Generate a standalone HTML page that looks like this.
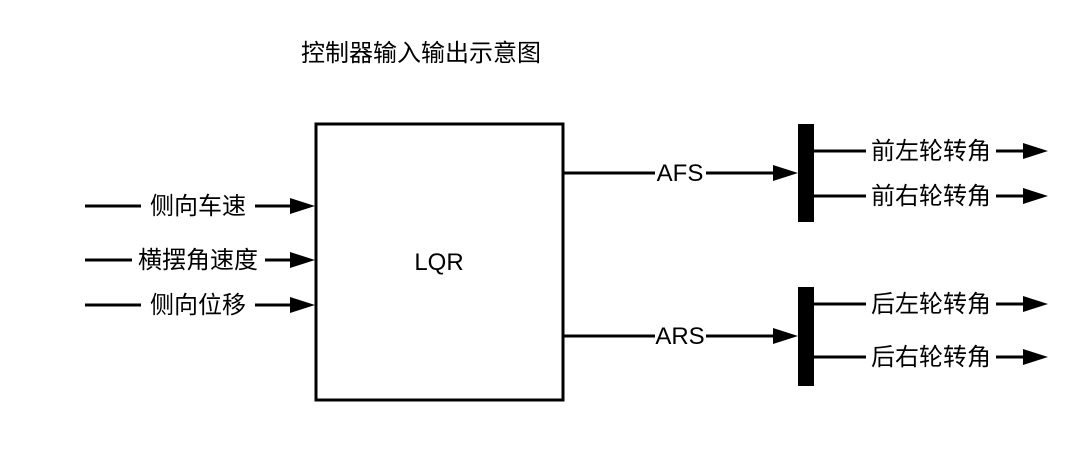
<!DOCTYPE html>
<html><head><meta charset="utf-8"><style>
html,body{margin:0;padding:0;background:#fff;}
svg{display:block;}
text{font-family:"Liberation Sans","Noto Sans CJK SC",sans-serif;font-size:24px;fill:#000;}
</style></head><body>
<svg width="1091" height="463" viewBox="0 0 1091 463">
<defs><marker id="a" markerWidth="10" markerHeight="10" refX="0" refY="0" viewBox="0 -5 10 10" orient="auto" markerUnits="userSpaceOnUse"></marker></defs>
<text x="421" y="61" text-anchor="middle">控制器输入输出示意图</text>
<rect x="316" y="124" width="247" height="276" fill="none" stroke="#000" stroke-width="3"/>
<text x="439" y="270" text-anchor="middle">LQR</text>
<g stroke="#000" stroke-width="3" fill="none">
<line x1="85" y1="206" x2="141" y2="206"/><line x1="255" y1="206" x2="292" y2="206"/>
<line x1="85" y1="260" x2="132" y2="260"/><line x1="265" y1="260" x2="292" y2="260"/>
<line x1="85" y1="305" x2="141" y2="305"/><line x1="255" y1="305" x2="292" y2="305"/>
<line x1="563" y1="173" x2="655" y2="173"/><line x1="706" y1="173" x2="775" y2="173"/>
<line x1="563" y1="336" x2="655" y2="336"/><line x1="706" y1="336" x2="775" y2="336"/>
<line x1="814" y1="151" x2="866" y2="151"/><line x1="996" y1="151" x2="1025" y2="151"/>
<line x1="814" y1="196" x2="866" y2="196"/><line x1="996" y1="196" x2="1025" y2="196"/>
<line x1="814" y1="304" x2="866" y2="304"/><line x1="996" y1="304" x2="1025" y2="304"/>
<line x1="814" y1="357" x2="866" y2="357"/><line x1="996" y1="357" x2="1025" y2="357"/>
</g>
<g fill="#000">
<polygon points="290,198 315,206 290,214"/>
<polygon points="290,252 315,260 290,268"/>
<polygon points="290,297 315,305 290,313"/>
<polygon points="773,165 798,173 773,181"/>
<polygon points="773,328 798,336 773,344"/>
<polygon points="1023,143 1048,151 1023,159"/>
<polygon points="1023,188 1048,196 1023,204"/>
<polygon points="1023,296 1048,304 1023,312"/>
<polygon points="1023,349 1048,357 1023,365"/>
<rect x="798" y="124" width="16" height="98"/>
<rect x="798" y="287" width="16" height="99"/>
</g>
<text x="198" y="214" text-anchor="middle">侧向车速</text>
<text x="198" y="268" text-anchor="middle">横摆角速度</text>
<text x="198" y="313" text-anchor="middle">侧向位移</text>
<text x="680" y="181" text-anchor="middle">AFS</text>
<text x="680" y="344" text-anchor="middle">ARS</text>
<text x="931" y="159" text-anchor="middle">前左轮转角</text>
<text x="931" y="204" text-anchor="middle">前右轮转角</text>
<text x="931" y="312" text-anchor="middle">后左轮转角</text>
<text x="931" y="365" text-anchor="middle">后右轮转角</text>
</svg>
</body></html>
